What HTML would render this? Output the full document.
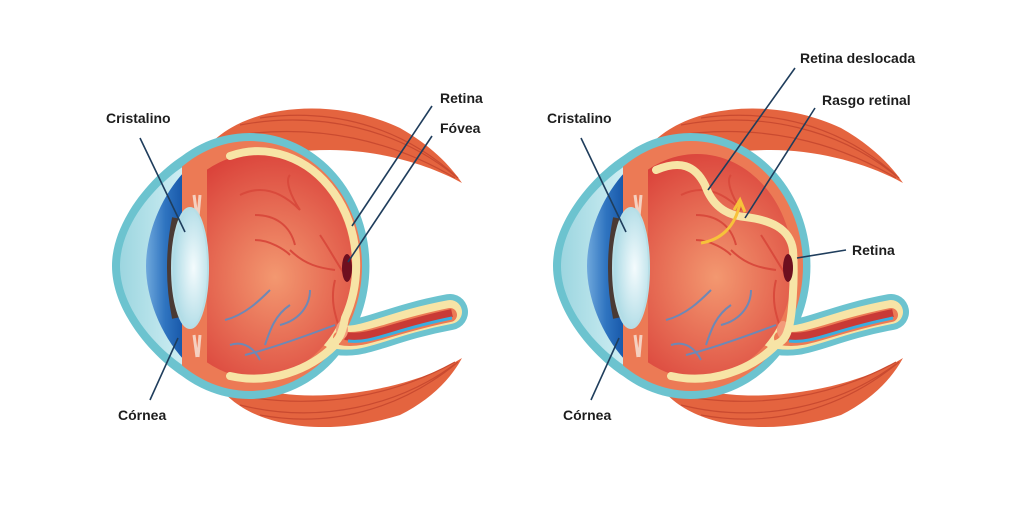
<!DOCTYPE html>
<html><head><meta charset="utf-8"><style>
html,body{margin:0;padding:0;background:#fff;}
svg{display:block}
text{font-family:"Liberation Sans",sans-serif;font-weight:bold;font-size:14px;fill:#1d1d1d}
</style></head><body>
<svg width="1024" height="527" viewBox="0 0 1024 527" xmlns="http://www.w3.org/2000/svg">
<defs>
<radialGradient id="inner" cx="0.6" cy="0.55" r="0.65">
<stop offset="0" stop-color="#f39870"/><stop offset="1" stop-color="#d83a35"/>
</radialGradient>
<radialGradient id="lens" cx="0.6" cy="0.5" r="0.6">
<stop offset="0" stop-color="#f4fbfd"/><stop offset="1" stop-color="#a9d9e4"/>
</radialGradient>
<linearGradient id="cor" x1="0" x2="1">
<stop offset="0" stop-color="#9dd6e0"/><stop offset="1" stop-color="#cfeef3"/>
</linearGradient>
<linearGradient id="iris" x1="0" x2="1">
<stop offset="0" stop-color="#6fa8dc"/><stop offset="0.5" stop-color="#2f74c0"/><stop offset="1" stop-color="#1656a8"/>
</linearGradient>
<clipPath id="cr"><rect x="182" y="0" width="400" height="527"/></clipPath>
<clipPath id="cr2"><rect x="207" y="0" width="400" height="527"/></clipPath>
<g id="eye">
<path d="M205,150 C240,105 330,95 400,128 C430,145 450,165 462,183 C430,165 380,150 330,150 C280,150 240,160 215,175 Z" fill="#e4643f"/>
<path d="M240,125 C320,110 400,130 455,176 M230,136 C320,122 395,142 455,178 M260,118 C330,108 400,125 458,178" stroke="#c94a30" stroke-width="1.2" fill="none"/>
<path d="M215,380 C240,425 320,440 400,415 C430,400 450,380 462,358 C430,378 380,392 330,395 C280,398 240,388 215,370 Z" fill="#e4643f"/>
<path d="M240,405 C320,425 400,405 455,364 M230,394 C320,412 395,395 455,362 M260,415 C330,428 400,410 458,362" stroke="#c94a30" stroke-width="1.2" fill="none"/>
<path d="M330,335 C360,345 380,325 450,312" stroke="#6cc3cf" stroke-width="36" stroke-linecap="round" fill="none"/>
<path d="M182,156 A120,133 0 1,1 182,376 C150,355 112,310 112,266 C112,222 150,177 182,156 Z" fill="#6cc3cf"/>
<path d="M184,166 C155,185 120,225 120,266 C120,307 155,347 184,366 Z" fill="url(#cor)"/>
<path d="M184,172 C160,198 146,235 146,266 C146,297 160,334 184,360 Z" fill="url(#iris)"/>
<ellipse cx="250" cy="266" rx="112" ry="125" fill="#ec7a55" clip-path="url(#cr)"/>
<path d="M330,335 C360,345 380,325 450,312" stroke="#f7e4a6" stroke-width="24" stroke-linecap="round" fill="none"/>
<path d="M340,338 C365,343 385,328 450,315" stroke="#ec7a55" stroke-width="14" stroke-linecap="round" fill="none"/>
<path d="M345,336 C370,340 390,326 452,313" stroke="#c93a36" stroke-width="8" fill="none"/>
<path d="M348,341 C372,344 392,330 452,318" stroke="#3aaee0" stroke-width="3" fill="none"/>
<ellipse cx="256" cy="266" rx="96" ry="112" fill="url(#inner)" clip-path="url(#cr2)"/>
<path d="M194,195 l3,22 M200,195 l-2,22 M194,335 l3,22 M200,335 l-2,22" stroke="#f5d0c0" stroke-width="3"/>
<path d="M176,268 m0,-50 q-10,50 0,100" stroke="#4a3a34" stroke-width="8" fill="none"/>
<ellipse cx="190" cy="268" rx="18" ry="60" fill="url(#lens)" stroke="#b7dee6" stroke-width="2"/>
<path d="M240,195 C260,185 280,190 300,210 M255,215 C275,215 290,225 295,245 M320,235 C330,250 335,260 345,275 M290,250 C305,265 320,268 335,270 M300,210 C290,195 285,180 290,175 M255,240 C270,240 285,250 290,255 M335,280 C330,300 335,315 340,330" stroke="#d94a3c" stroke-width="2" fill="none"/>
<path d="M225,320 C245,315 260,300 270,290 M245,355 C265,350 295,340 335,325 M265,345 C270,330 275,315 290,305 M280,325 C300,320 310,305 310,290 M230,345 C245,340 255,350 260,360" stroke="#6e88b5" stroke-width="2" fill="none"/>
<ellipse cx="342" cy="330" rx="6" ry="9" fill="#f39b7a"/>
</g>
</defs>

<use href="#eye"/>
<path d="M230,156 A98,114 0 0,1 345,318 C342,335 338,342 330,345" stroke="#f7e4a6" stroke-width="8" fill="none" stroke-linecap="round"/>
<path d="M230,376 C270,385 310,370 335,345" stroke="#f7e4a6" stroke-width="8" fill="none" stroke-linecap="round"/>
<ellipse cx="347" cy="268" rx="5" ry="14" fill="#6e0f1f"/>

<g transform="translate(441,0)"><use href="#eye"/></g>
<path d="M656,170 C680,160 695,165 705,185 C712,205 725,215 745,217 C770,220 790,228 793,250 C795,280 792,320 788,330 C786,338 780,345 771,345" stroke="#f7e4a6" stroke-width="8" fill="none" stroke-linecap="round"/>
<path d="M671,376 C711,385 751,370 776,345" stroke="#f7e4a6" stroke-width="8" fill="none" stroke-linecap="round"/>
<ellipse cx="788" cy="268" rx="5" ry="14" fill="#6e0f1f"/>
<path d="M701,243 C720,240 735,228 740,203" stroke="#f7c23a" stroke-width="3" fill="none"/>
<path d="M734,210 L740,200 L745,212" stroke="#f7c23a" stroke-width="3" fill="none"/>

<g stroke="#1f3d5c" stroke-width="1.6">
<line x1="140" y1="138" x2="185" y2="232"/>
<line x1="150" y1="400" x2="178" y2="338"/>
<line x1="432" y1="106" x2="352" y2="226"/>
<line x1="432" y1="136" x2="348" y2="262"/>
<line x1="581" y1="138" x2="626" y2="232"/>
<line x1="591" y1="400" x2="619" y2="338"/>
<line x1="795" y1="68" x2="708" y2="190"/>
<line x1="815" y1="108" x2="745" y2="218"/>
<line x1="846" y1="250" x2="797" y2="258"/>
</g>
<text x="106" y="123">Cristalino</text>
<text x="118" y="420">Córnea</text>
<text x="440" y="103">Retina</text>
<text x="440" y="133">Fóvea</text>
<text x="547" y="123">Cristalino</text>
<text x="563" y="420">Córnea</text>
<text x="800" y="63">Retina deslocada</text>
<text x="822" y="105">Rasgo retinal</text>
<text x="852" y="255">Retina</text>
</svg>
</body></html>
